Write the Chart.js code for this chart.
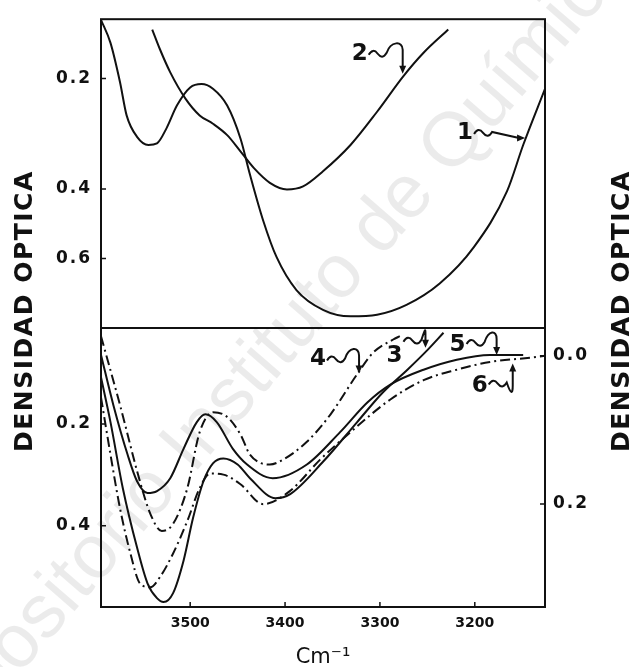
<!DOCTYPE html>
<html>
<head>
<meta charset="utf-8">
<title>Densidad óptica</title>
<script src="https://cdn.jsdelivr.net/npm/chart.js@4.4.1/dist/chart.umd.min.js"></script>
<style>
  html, body { margin: 0; padding: 0; background: #fff; }
</style>
</head>
<body>
<canvas id="myChart" width="635" height="667"></canvas>
<script>
// wavenumber (cm-1) / optical density pairs
var wave1 = [3594, 3584, 3574, 3567, 3556, 3544, 3535, 3525, 3514, 3500, 3488, 3476, 3461, 3447, 3437, 3423, 3409, 3388, 3360, 3331, 3303, 3272, 3237, 3201, 3166, 3149, 3126];
var dens1 = [0.122, 0.151, 0.205, 0.257, 0.294, 0.309, 0.306, 0.279, 0.241, 0.213, 0.208, 0.215, 0.241, 0.297, 0.368, 0.480, 0.594, 0.733, 0.844, 0.888, 0.877, 0.814, 0.702, 0.560, 0.405, 0.309, 0.215];

var wave2 = [3540, 3532, 3521, 3505, 3490, 3476, 3461, 3447, 3433, 3416, 3398, 3381, 3360, 3331, 3303, 3275, 3254, 3228];
var dens2 = [0.134, 0.159, 0.191, 0.230, 0.257, 0.271, 0.291, 0.321, 0.354, 0.386, 0.401, 0.394, 0.361, 0.309, 0.251, 0.196, 0.164, 0.134];

var wave3 = [3594, 3584, 3571, 3556, 3545, 3535, 3528, 3518, 3507, 3497, 3486, 3476, 3465, 3450, 3437, 3410, 3395, 3360, 3324, 3297, 3271, 3250, 3233];
var dens3 = [0.132, 0.197, 0.315, 0.458, 0.574, 0.633, 0.650, 0.612, 0.497, 0.381, 0.301, 0.267, 0.258, 0.269, 0.295, 0.336, 0.328, 0.264, 0.197, 0.153, 0.122, 0.097, 0.076];

var wave4 = [3594, 3574, 3553, 3542, 3530, 3518, 3503, 3490, 3476, 3461, 3447, 3437, 3416, 3402, 3377, 3352, 3324, 3307, 3286, 3279];
var dens4 = [0.080, 0.171, 0.301, 0.371, 0.413, 0.395, 0.315, 0.213, 0.182, 0.189, 0.217, 0.251, 0.269, 0.260, 0.229, 0.185, 0.128, 0.100, 0.084, 0.080];

var wave5 = [3594, 3581, 3566, 3556, 3545, 3535, 3521, 3507, 3493, 3484, 3472, 3455, 3440, 3413, 3377, 3342, 3313, 3289, 3254, 3219, 3184, 3149];
var dens5 = [0.103, 0.171, 0.251, 0.301, 0.325, 0.321, 0.295, 0.241, 0.197, 0.185, 0.197, 0.241, 0.269, 0.295, 0.269, 0.213, 0.167, 0.142, 0.122, 0.109, 0.103, 0.103];

var wave6 = [3594, 3584, 3574, 3563, 3553, 3542, 3532, 3518, 3503, 3490, 3479, 3465, 3447, 3423, 3395, 3363, 3331, 3289, 3254, 3219, 3184, 3131, 3126];
var dens6 = [0.160, 0.251, 0.358, 0.475, 0.574, 0.589, 0.552, 0.475, 0.388, 0.315, 0.286, 0.288, 0.307, 0.349, 0.321, 0.260, 0.213, 0.163, 0.136, 0.122, 0.112, 0.105, 0.104];

var xTicks = [3500, 3400, 3300, 3200];
var upperTicks = [0.2, 0.4, 0.6];
var lowerTicks = [0.2, 0.4];
var rightTicks = [0.0, 0.2];

var INK = '#111';
var DASH_DOT = [10, 4, 2, 4];

// the spectrometer chart paper is linear in transmittance but labelled in optical density
class DensityScale extends Chart.LinearScale {
  getPixelForValue(value) {
    var tTop = Math.pow(10, -this.min), tBottom = Math.pow(10, -this.max);
    return this.top + (tTop - Math.pow(10, -value)) / (tTop - tBottom) * this.height;
  }
  getValueForPixel(pixel) {
    var tTop = Math.pow(10, -this.min), tBottom = Math.pow(10, -this.max);
    return -Math.log10(tTop - (pixel - this.top) / this.height * (tTop - tBottom));
  }
}
DensityScale.id = 'density';
DensityScale.defaults = {};
Chart.register(DensityScale);

function series(xs, ys) {
  return xs.map(function (x, i) { return {x: x, y: ys[i]}; });
}

function curve(label, xs, ys, axis, dash) {
  return {
    label: label,
    data: series(xs, ys),
    yAxisID: axis,
    borderColor: INK,
    borderWidth: 2,
    borderDash: dash,
    pointRadius: 0,
    fill: false,
    cubicInterpolationMode: 'monotone'
  };
}

function ticksFrom(values) {
  return function (scale) {
    scale.ticks = values.map(function (v) { return {value: v}; });
  };
}

function densityAxis(position, stackWeight, min, max, tickValues, width, pad) {
  var axis = {
    type: 'density',
    position: position,
    min: min,
    max: max,
    bounds: 'data',
    afterBuildTicks: ticksFrom(tickValues),
    afterFit: function (s) { s.width = width; },
    grid: {display: false, drawTicks: false},
    border: {display: false},
    ticks: {
      color: INK,
      padding: pad,
      autoSkip: false,
      font: {family: 'DejaVu Sans', size: 17, weight: 'bold'},
      callback: function (v) { return Number(v).toFixed(1); }
    }
  };
  if (stackWeight) {
    axis.stack = 'od';
    axis.stackWeight = stackWeight;
  }
  return axis;
}

// curve numbers with their little squiggle arrows
var notes = [
  {text: '1', axis: 'yTop', x: 3147, y: 0.296, dx: -60, dy: -5, wy: 0, kind: 'right'},
  {text: '2', axis: 'yTop', x: 3276, y: 0.193, dx: -43, dy: -20, wy: 0, kind: 'down'},
  {text: '3', axis: 'yBot', x: 3252, y: 0.094, dx: -31, dy: 8, wy: -15, kind: 'down'},
  {text: '4', axis: 'yBot', x: 3322, y: 0.127, dx: -41, dy: -14, wy: 0, kind: 'down'},
  {text: '5', axis: 'yBot', x: 3177, y: 0.103, dx: -39, dy: -10, wy: -2, kind: 'down'},
  {text: '6', axis: 'yBot', x: 3160, y: 0.114, dx: -33, dy: 22, wy: -2, kind: 'up'}
];

function arrowHead(ctx, x, y, dx, dy) {
  var L = 8, W = 3.5;
  ctx.beginPath();
  ctx.moveTo(x, y);
  ctx.lineTo(x - dx * L - dy * W, y - dy * L + dx * W);
  ctx.lineTo(x - dx * L + dy * W, y - dy * L - dx * W);
  ctx.closePath();
  ctx.fill();
}

var paperPlugin = {
  id: 'paper',
  beforeDraw: function (chart) {
    // wider lettering for the density tick labels
    ['yTop', 'yBot', 'yRight'].forEach(function (id) {
      var s = chart.scales[id];
      if (s && !s.spaced) {
        var draw = s.drawLabels;
        s.drawLabels = function (area) {
          var c = this.ctx;
          c.save();
          c.letterSpacing = '2px';
          draw.call(this, area);
          c.restore();
        };
        s.spaced = true;
      }
    });
  },
  beforeDatasetsDraw: function (chart) {
    var ctx = chart.ctx;
    ctx.save();
    ctx.translate(266, 359);
    ctx.rotate(-49 * Math.PI / 180);
    ctx.font = '76px "Liberation Sans"';
    ctx.fillStyle = 'rgba(0,0,0,0.08)';
    ctx.textAlign = 'center';
    ctx.textBaseline = 'middle';
    ctx.fillText('Repositorio Instituto de Química', 0, 0);
    ctx.restore();
  },
  afterDatasetsDraw: function (chart) {
    var ctx = chart.ctx, a = chart.chartArea, sc = chart.scales;
    ctx.save();
    ctx.strokeStyle = INK;
    ctx.fillStyle = INK;
    ctx.lineWidth = 2;
    ctx.strokeRect(a.left, a.top, a.right - a.left, a.bottom - a.top);
    ctx.beginPath();
    ctx.moveTo(a.left, sc.yBot.top);
    ctx.lineTo(a.right, sc.yBot.top);
    ctx.stroke();

    // tick marks point into the plot
    ctx.lineWidth = 1.5;
    ctx.beginPath();
    sc.x.ticks.forEach(function (t) {
      var px = sc.x.getPixelForValue(t.value);
      ctx.moveTo(px, a.bottom); ctx.lineTo(px, a.bottom - 5);
    });
    ['yTop', 'yBot'].forEach(function (id) {
      sc[id].ticks.forEach(function (t) {
        var py = sc[id].getPixelForValue(t.value);
        ctx.moveTo(a.left, py); ctx.lineTo(a.left + 5, py);
      });
    });
    sc.yRight.ticks.forEach(function (t) {
      var py = sc.yRight.getPixelForValue(t.value);
      ctx.moveTo(a.right, py); ctx.lineTo(a.right - 5, py);
    });
    ctx.stroke();

    ctx.font = 'bold 23px "DejaVu Sans"';
    ctx.textAlign = 'center';
    ctx.textBaseline = 'middle';
    ctx.lineWidth = 2;
    notes.forEach(function (n) {
      var px = sc.x.getPixelForValue(n.x), py = sc[n.axis].getPixelForValue(n.y);
      var tx = px + n.dx, ty = py + n.dy;
      ctx.fillText(n.text, tx, ty);
      var sx = tx + 9, sy = ty + n.wy;
      ctx.beginPath();
      ctx.moveTo(sx, sy + 1);
      ctx.bezierCurveTo(sx + 3, sy - 4, sx + 6, sy - 4, sx + 9, sy);
      ctx.bezierCurveTo(sx + 12, sy + 4, sx + 15, sy + 4, sx + 18, sy - 1);
      var ex = sx + 18, ey = sy - 1;
      if (n.kind === 'right') {
        ctx.lineTo(px - 6, py);
        ctx.stroke();
        arrowHead(ctx, px, py, 1, 0);
      } else if (n.kind === 'down') {
        ctx.bezierCurveTo(ex + 4, ey - 12, px, ey - 12, px, ey - 3);
        ctx.lineTo(px, py - 6);
        ctx.stroke();
        arrowHead(ctx, px, py, 0, 1);
      } else {
        ctx.bezierCurveTo(ex + 4, ey + 12, px, ey + 12, px, ey + 3);
        ctx.lineTo(px, py + 6);
        ctx.stroke();
        arrowHead(ctx, px, py, 0, -1);
      }
    });
    ctx.restore();
  },
  afterDraw: function (chart) {
    var ctx = chart.ctx, a = chart.chartArea;
    var mid = (a.top + a.bottom) / 2 - 2;
    ctx.save();
    ctx.fillStyle = INK;
    ctx.font = 'bold 25px "DejaVu Sans"';
    ctx.letterSpacing = '1.5px';
    ctx.textAlign = 'center';
    ctx.textBaseline = 'middle';
    [25, chart.width - 13].forEach(function (cx) {
      ctx.save();
      ctx.translate(cx, mid);
      ctx.rotate(-Math.PI / 2);
      ctx.fillText('DENSIDAD OPTICA', 0, 0);
      ctx.restore();
    });
    ctx.restore();
  }
};

var ctx = document.getElementById('myChart').getContext('2d');
var myChart = new Chart(ctx, {
  type: 'line',
  data: {
    datasets: [
      curve('1', wave1, dens1, 'yTop', []),
      curve('2', wave2, dens2, 'yTop', []),
      curve('3', wave3, dens3, 'yBot', []),
      curve('4', wave4, dens4, 'yBot', DASH_DOT),
      curve('5', wave5, dens5, 'yBot', []),
      curve('6', wave6, dens6, 'yBot', DASH_DOT)
    ]
  },
  options: {
    responsive: false,
    animation: false,
    layout: {padding: {top: 13, left: 0, right: 0, bottom: 0}},
    plugins: {legend: {display: false}, tooltip: {enabled: false}},
    scales: {
      x: {
        type: 'linear',
        reverse: true,
        min: 3126,
        max: 3594,
        bounds: 'data',
        afterBuildTicks: ticksFrom(xTicks),
        afterFit: function (s) { s.height = 60; },
        grid: {display: false, drawTicks: false},
        border: {display: false},
        ticks: {
          color: INK,
          padding: 8,
          autoSkip: false,
          maxRotation: 0,
          font: {family: 'DejaVu Sans', size: 14, weight: 'bold'},
          callback: function (v) { return String(v); }
        },
        title: {
          display: true,
          text: 'Cm⁻¹',
          color: INK,
          padding: {top: 0, bottom: -3},
          font: {family: 'DejaVu Sans', size: 21}
        }
      },
      // the later left axis of the stack is laid out on top
      yBot: densityAxis('left', 282, 0.0703, 0.6726, lowerTicks, 101, 9),
      yTop: densityAxis('left', 312, 0.1213, 0.9792, upperTicks, 101, 9),
      yRight: densityAxis('right', 0, -0.2642, 0.4267, rightTicks, 90, 8)
    }
  },
  plugins: [paperPlugin]
});
</script>
</body>
</html>
